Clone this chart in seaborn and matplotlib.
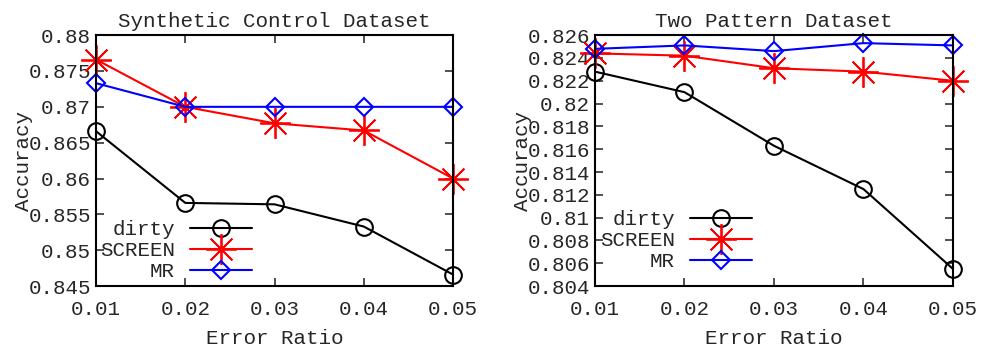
import pandas as pd
import numpy as np
import matplotlib
matplotlib.use('Agg')
import matplotlib.pyplot as plt
import seaborn as sns

# Error ratios shared by both panels
error_ratio = [0.01, 0.02, 0.03, 0.04, 0.05]

# Synthetic Control Dataset
synth_dirty = [0.8666, 0.8566, 0.8564, 0.8533, 0.8466]
synth_screen = [0.8766, 0.8700, 0.8677, 0.8667, 0.8600]
synth_mr = [0.8733, 0.8700, 0.8700, 0.8700, 0.8700]
synth_yticks = [0.845, 0.85, 0.855, 0.86, 0.865, 0.87, 0.875, 0.88]

# Two Pattern Dataset
two_dirty = [0.8228, 0.8210, 0.8163, 0.8125, 0.8055]
two_screen = [0.8244, 0.8242, 0.8231, 0.8228, 0.8220]
two_mr = [0.8248, 0.8251, 0.8246, 0.8253, 0.8251]
two_yticks = [0.804, 0.806, 0.808, 0.81, 0.812, 0.814, 0.816, 0.818,
              0.82, 0.822, 0.824, 0.826]

methods = ['dirty', 'SCREEN', 'MR']
titles = ['Synthetic Control Dataset', 'Two Pattern Dataset']

sns.set_style('ticks')
plt.rcParams['font.family'] = ['Liberation Mono', 'DejaVu Sans Mono']
plt.rcParams['axes.linewidth'] = 1.5

styles = {
    'dirty': dict(color='black', marker='o', markersize=12, mfc='none',
                  mec='black', mew=1.5),
    'SCREEN': dict(color='red', marker=(8, 2, 0), markersize=22,
                   mec='red', mew=1.3),
    'MR': dict(color='blue', marker='D', markersize=9, mfc='none',
               mec='blue', mew=1.5),
}


def make_frame(dirty, screen, mr):
    rows = []
    for name, vals in zip(methods, [dirty, screen, mr]):
        for x, y in zip(error_ratio, vals):
            rows.append({'Error Ratio': x, 'Accuracy': y, 'method': name})
    return pd.DataFrame(rows)


frames = [make_frame(synth_dirty, synth_screen, synth_mr),
          make_frame(two_dirty, two_screen, two_mr)]
yticks = [synth_yticks, two_yticks]
legend_anchor = [(0.437, 0.02), (0.439, 0.06)]

fig = plt.figure(figsize=(9.89, 3.48), dpi=100)
axes = [fig.add_axes([0.0971, 0.178, 0.361, 0.721]),
        fig.add_axes([0.6016, 0.178, 0.362, 0.721])]

for ax, df, yt, title, anchor in zip(axes, frames, yticks, titles, legend_anchor):
    for name in methods:
        sub = df[df['method'] == name]
        sns.lineplot(data=sub, x='Error Ratio', y='Accuracy', ax=ax,
                     label=name, linewidth=1.5, clip_on=False, **styles[name])
    ax.set_xlim(error_ratio[0], error_ratio[-1])
    ax.set_ylim(yt[0], yt[-1])
    ax.set_xticks(error_ratio)
    ax.set_xticklabels(['%g' % v for v in error_ratio])
    ax.set_yticks(yt)
    ax.set_yticklabels(['%g' % v for v in yt])
    ax.tick_params(direction='in', length=6, width=1.2, top=True, right=True,
                   labelsize=15, color='#333333')
    ax.tick_params(axis='x', pad=10)
    ax.set_title(title, fontsize=15, pad=6)
    ax.set_xlabel('Error Ratio', fontsize=15, labelpad=7)
    ax.set_ylabel('Accuracy', fontsize=15, labelpad=-3)
    for sp in ax.spines.values():
        sp.set_color('black')
    ax.legend(loc='lower right', bbox_to_anchor=anchor, frameon=False,
              markerfirst=False, fontsize=15, handlelength=3.0,
              handletextpad=0.7, labelspacing=0.1, borderpad=0,
              borderaxespad=0)

fig.savefig('out.png', dpi=100)
